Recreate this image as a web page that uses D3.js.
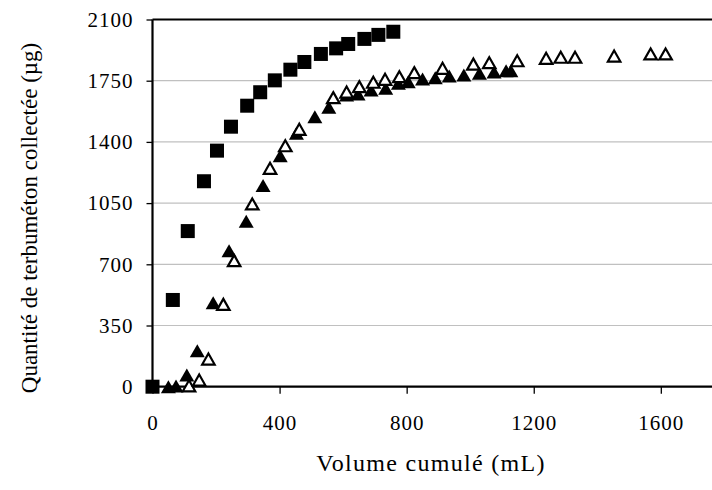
<!DOCTYPE html>
<html>
<head>
<meta charset="utf-8">
<script src="https://cdn.jsdelivr.net/npm/d3@7"></script>
<style>
  body { margin: 0; background: #fff; }
  text { font-family: "Liberation Serif", "Times New Roman", serif; fill: #000; }
</style>
</head>
<body>
<svg id="chart" width="712" height="490"></svg>
<script>
// data
var xTicks = [0, 400, 800, 1200, 1600];
var yTicks = [0, 350, 700, 1050, 1400, 1750, 2100];

// squares (filled)
var sqX = [0, 64, 111, 162, 203, 247, 298, 339, 385, 434, 478, 530, 578, 616, 667, 711, 758];
var sqY = [0, 496, 890, 1175, 1350, 1487, 1607, 1684, 1752, 1813, 1857, 1903, 1935, 1960, 1989, 2012, 2030];

// filled triangles
var ftX = [50, 74, 108, 141, 191, 241, 295, 348, 402, 453, 511, 555, 611, 647, 688, 734, 774, 805, 850, 890, 934, 980, 1029, 1075, 1113, 1128];
var ftY = [0, 4, 67, 206, 480, 778, 946, 1150, 1321, 1449, 1544, 1598, 1668, 1674, 1697, 1707, 1735, 1744, 1760, 1767, 1777, 1783, 1792, 1800, 1807, 1807];

// open triangles
var otX = [115, 147, 176, 223, 257, 314, 370, 418, 462, 569, 611, 651, 695, 732, 777, 824, 913, 1010, 1060, 1148, 1239, 1285, 1330, 1453, 1568, 1615];
var otY = [5, 38, 158, 471, 721, 1045, 1249, 1378, 1472, 1653, 1685, 1716, 1741, 1758, 1773, 1796, 1821, 1845, 1853, 1864, 1878, 1884, 1884, 1891, 1903, 1903];

var svg = d3.select('#chart');

var plotLeft = 152.5, plotTop = 19.5, plotBottom = 386.7;
var x = d3.scaleLinear().domain([0, 1800]).range([plotLeft, plotLeft + 1800 * 0.3177]);
var y = d3.scaleLinear().domain([0, 2100]).range([plotBottom, plotTop]);

// grid lines
svg.append("g").selectAll("line")
    .data(yTicks.filter(function (d) { return d > 0 && d < 2100; }))
    .enter().append("line")
    .attr("x1", plotLeft).attr("x2", 712)
    .attr("y1", function (d) { return y(d); })
    .attr("y2", function (d) { return y(d); })
    .attr("stroke", "#c0c0c0")
    .attr("stroke-width", 1.2);

// top border
svg.append("line")
    .attr("x1", plotLeft).attr("x2", 712)
    .attr("y1", y(2100)).attr("y2", y(2100))
    .attr("stroke", "#000").attr("stroke-width", 2);

// axes
var xAxis = d3.axisBottom(x).tickValues(xTicks).tickFormat(d3.format("d")).tickSize(7).tickPadding(21);
var yAxis = d3.axisLeft(y).tickValues(yTicks).tickFormat(d3.format("d")).tickSize(6).tickPadding(13);

var gx = svg.append("g")
    .attr("transform", "translate(0," + plotBottom + ")")
    .call(xAxis);
gx.select(".domain").remove();
gx.append("line").attr("x1", plotLeft).attr("x2", 712).attr("stroke", "#000").attr("stroke-width", 2.2);

var gy = svg.append("g")
    .attr("transform", "translate(" + plotLeft + ",0)")
    .call(yAxis);
gy.select(".domain").remove();
gy.append("line").attr("y1", plotTop).attr("y2", plotBottom).attr("stroke", "#000").attr("stroke-width", 2.2);

svg.selectAll(".tick line").attr("stroke", "#000").attr("stroke-width", 1.3);
svg.selectAll(".tick text")
    .style("font-family", '"Liberation Serif", serif')
    .style("font-size", "21px")
    .style("letter-spacing", "1px")
    .attr("fill", "#000");

// triangle path centred on its bounding box
function tri(cx, cy, w, h) {
    return "M" + cx + "," + (cy - h / 2) +
        "L" + (cx + w / 2) + "," + (cy + h / 2) +
        "L" + (cx - w / 2) + "," + (cy + h / 2) + "Z";
}

// squares
svg.append("g").selectAll("rect")
    .data(d3.zip(sqX, sqY))
    .enter().append("rect")
    .attr("x", function (d) { return x(d[0]) - 7; })
    .attr("y", function (d) { return y(d[1]) - 7; })
    .attr("width", 14).attr("height", 14)
    .attr("fill", "#000");

// filled triangles
svg.append("g").selectAll("path")
    .data(d3.zip(ftX, ftY))
    .enter().append("path")
    .attr("d", function (d) { return tri(x(d[0]), y(d[1]), 15, 13); })
    .attr("fill", "#000");

// open triangles
svg.append("g").selectAll("path")
    .data(d3.zip(otX, otY))
    .enter().append("path")
    .attr("d", function (d) { return tri(x(d[0]), y(d[1]), 12.5, 11); })
    .attr("fill", "#fff")
    .attr("stroke", "#000")
    .attr("stroke-width", 2.2)
    .attr("stroke-linejoin", "miter");

// axis titles
svg.append("text")
    .attr("x", 431).attr("y", 471)
    .style("text-anchor", "middle")
    .style("font-size", "24px")
    .style("letter-spacing", "1.3px")
    .text("Volume cumulé (mL)");

svg.append("text")
    .attr("transform", "translate(37," + 218 + ") rotate(-90)")
    .style("text-anchor", "middle")
    .style("font-size", "23px")
    .text("Quantité de terbuméton collectée (µg)");
</script>
</body>
</html>
